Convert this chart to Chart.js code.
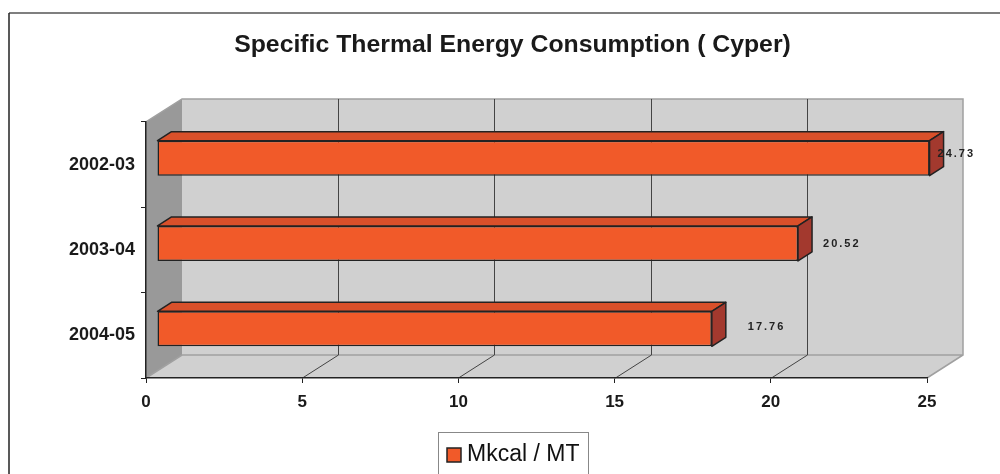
<!DOCTYPE html>
<html><head><meta charset="utf-8">
<script src="https://cdn.jsdelivr.net/npm/chart.js@4"></script>
<style>html,body{margin:0;padding:0;background:#fff}#wrap{width:1000px;height:474px}</style>
</head><body><div id="wrap"><canvas id="c" width="1000" height="474"></canvas></div>
<script>
const categories = ['2002-03', '2003-04', '2004-05'];
const seriesName = 'Mkcal / MT';
const values = [24.73, 20.52, 17.76];
const xTicks = [0, 5, 10, 15, 20, 25];
const titleText = 'Specific Thermal Energy Consumption ( Cyper)';

const FONT = '"Liberation Sans", Arial, Helvetica, sans-serif';
const WALL = {dx: 36, dy: -23};
const BAR_SHIFT = {dx: 11, dy: -6.5};
const BAR_DEPTH = {dx: 14, dy: -9};
const LABEL_DX = [19, 36, 47];
const LABEL_DY = [-10.5, -6.3, -8];

const excel3d = {
  id: 'excel3d',
  afterLayout(chart) {
    // let the category labels extend left of the narrow axis box without being clipped
    chart.scales.y.left = 10;
  },
  beforeDraw(chart) {
    const ctx = chart.ctx;
    const a = chart.chartArea;
    const xs = chart.scales.x;
    ctx.save();
    ctx.fillStyle = '#ffffff';
    ctx.fillRect(0, 0, chart.width, chart.height);
    // outer frame
    ctx.lineWidth = 1.5;
    ctx.strokeStyle = '#555';
    ctx.beginPath(); ctx.moveTo(9, 13); ctx.lineTo(1000, 13); ctx.stroke();
    ctx.strokeStyle = '#222';
    ctx.beginPath(); ctx.moveTo(9, 13); ctx.lineTo(9, 474); ctx.stroke();

    const L = a.left, R = a.right, T = a.top, B = a.bottom;
    const dx = WALL.dx, dy = WALL.dy;
    // back wall
    ctx.fillStyle = '#d0d0d0';
    ctx.fillRect(L + dx, T + dy, R - L, B - T);
    // floor
    ctx.beginPath();
    ctx.moveTo(L, B); ctx.lineTo(L + dx, B + dy); ctx.lineTo(R + dx, B + dy); ctx.lineTo(R, B); ctx.closePath();
    ctx.fillStyle = '#d0d0d0'; ctx.fill();
    // left wall
    ctx.beginPath();
    ctx.moveTo(L, T); ctx.lineTo(L + dx, T + dy); ctx.lineTo(L + dx, B + dy); ctx.lineTo(L, B); ctx.closePath();
    ctx.fillStyle = '#999999'; ctx.fill();
    // outline of walls (gray)
    ctx.strokeStyle = '#a0a0a0';
    ctx.lineWidth = 1.5;
    ctx.beginPath();
    ctx.moveTo(L, T); ctx.lineTo(L + dx, T + dy); ctx.lineTo(R + dx, T + dy); ctx.lineTo(R + dx, B + dy); ctx.lineTo(R, B);
    ctx.moveTo(L, B); ctx.lineTo(L + dx, B + dy); ctx.lineTo(R + dx, B + dy);
    ctx.stroke();
    // gridlines
    ctx.lineWidth = 1;
    ctx.strokeStyle = '#444';
    xTicks.forEach(v => {
      if (v === xTicks[0] || v === xTicks[xTicks.length - 1]) return;
      const px = Math.round(xs.getPixelForValue(v)) + 0.5;
      ctx.beginPath();
      ctx.moveTo(px + dx, T + dy); ctx.lineTo(px + dx, B + dy);
      ctx.moveTo(px, B); ctx.lineTo(px + dx, B + dy);
      ctx.stroke();
    });
    ctx.restore();
  },
  beforeDatasetsDraw(chart) {
    chart.ctx.save();
    chart.ctx.translate(BAR_SHIFT.dx, BAR_SHIFT.dy);
  },
  afterDatasetsDraw(chart) {
    const ctx = chart.ctx;
    const meta = chart.getDatasetMeta(0);
    ctx.lineWidth = 1.5;
    ctx.strokeStyle = '#222';
    ctx.lineJoin = 'round';
    meta.data.forEach(el => {
      const p = el.getProps(['x', 'y', 'base', 'height'], true);
      const x0 = p.base, x1 = p.x, top = p.y - p.height / 2, bot = p.y + p.height / 2;
      const ddx = BAR_DEPTH.dx, ddy = BAR_DEPTH.dy;
      ctx.beginPath();
      ctx.moveTo(x0, top); ctx.lineTo(x0 + ddx, top + ddy); ctx.lineTo(x1 + ddx, top + ddy); ctx.lineTo(x1, top); ctx.closePath();
      ctx.fillStyle = '#d9502a'; ctx.fill(); ctx.stroke();
      ctx.beginPath();
      ctx.moveTo(x1, top); ctx.lineTo(x1 + ddx, top + ddy); ctx.lineTo(x1 + ddx, bot + ddy); ctx.lineTo(x1, bot); ctx.closePath();
      ctx.fillStyle = '#a3392e'; ctx.fill(); ctx.stroke();
    });
    ctx.restore();
    // data labels
    const xs = chart.scales.x, ys = chart.scales.y;
    ctx.save();
    ctx.font = 'bold 11px ' + FONT;
    ctx.fillStyle = '#222';
    ctx.textAlign = 'left';
    ctx.textBaseline = 'middle';
    try { ctx.letterSpacing = '2px'; } catch (e) {}
    values.forEach((v, i) => {
      const px = xs.getPixelForValue(v) + LABEL_DX[i];
      const py = ys.getPixelForValue(i) + LABEL_DY[i];
      ctx.fillText(v.toFixed(2), px, py);
    });
    ctx.restore();
  },
  afterDraw(chart) {
    const ctx = chart.ctx;
    ctx.save();
    ctx.strokeStyle = '#888';
    ctx.lineWidth = 1;
    ctx.strokeRect(438.5, 432.5, 150, 60);
    ctx.fillStyle = chart.data.datasets[0].backgroundColor;
    ctx.fillRect(447, 448, 14, 14);
    ctx.strokeStyle = '#222';
    ctx.lineWidth = 1.5;
    ctx.strokeRect(447, 448, 14, 14);
    ctx.fillStyle = '#111';
    ctx.font = '23px ' + FONT;
    ctx.textBaseline = 'middle';
    ctx.textAlign = 'left';
    ctx.fillText(chart.data.datasets[0].label, 467, 455);
    ctx.restore();
  }
};

new Chart(document.getElementById('c'), {
  type: 'bar',
  data: {
    labels: categories,
    datasets: [{
      label: seriesName,
      data: values,
      backgroundColor: '#f15a29',
      borderColor: '#222',
      borderWidth: 1.5,
      borderSkipped: false,
      barPercentage: 0.41,
      categoryPercentage: 1,
      clip: false
    }]
  },
  options: {
    indexAxis: 'y',
    responsive: false,
    animation: false,
    devicePixelRatio: 1,
    layout: {padding: {left: 98, right: 73, top: 12, bottom: 0}},
    plugins: {
      legend: {display: false},
      tooltip: {enabled: false},
      title: {
        display: true, text: titleText, color: '#1a1a1a',
        font: {family: FONT, size: 24.8, weight: 'bold'},
        padding: {top: 18.1, bottom: 62.1}
      }
    },
    scales: {
      x: {
        type: 'linear', min: 0, max: 25,
        afterBuildTicks: s => { s.ticks = xTicks.map(v => ({value: v})); },
        ticks: {color: '#1a1a1a', font: {family: FONT, size: 17, weight: 'bold'}, padding: 9, maxRotation: 0},
        grid: {drawOnChartArea: false, drawTicks: true, tickLength: 5, color: '#222', lineWidth: 1},
        border: {display: true, color: '#222', width: 1.5},
        afterFit: s => { s.height = 96; }
      },
      y: {
        type: 'category', offset: true,
        ticks: {color: '#1a1a1a', font: {family: FONT, size: 18, weight: 'bold'}, padding: 6},
        grid: {drawOnChartArea: false, drawTicks: true, tickLength: 5, color: '#222', offset: true},
        border: {display: true, color: '#222', width: 1.5},
        afterFit: s => { s.width = 48; }
      }
    }
  },
  plugins: [excel3d]
});
</script>
</body></html>
